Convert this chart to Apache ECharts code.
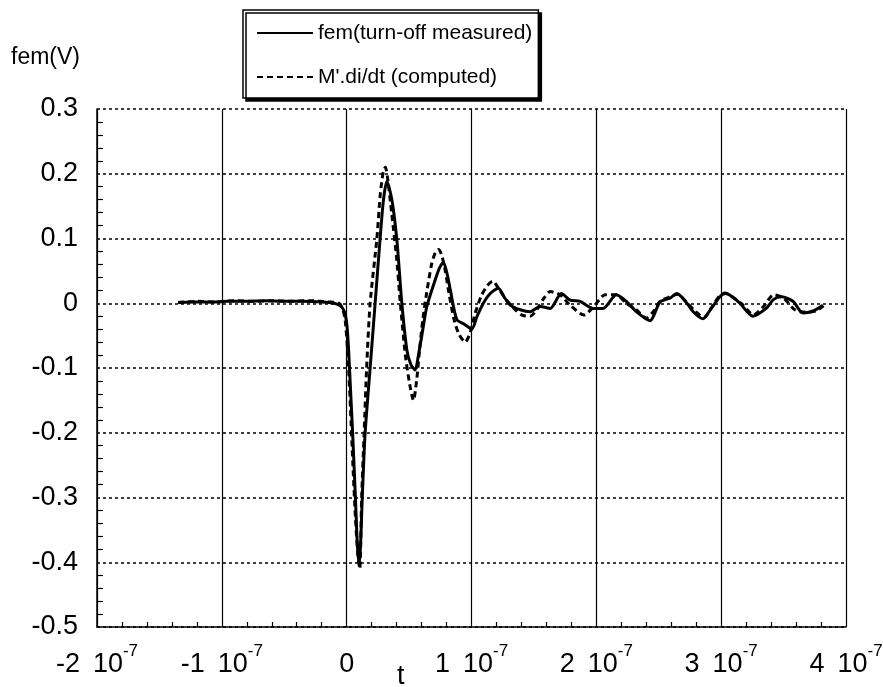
<!DOCTYPE html>
<html>
<head>
<meta charset="utf-8">
<script src="https://cdn.jsdelivr.net/npm/echarts@6/dist/echarts.min.js"></script>
<style>html,body{margin:0;padding:0;background:#fff}#c{width:883px;height:687px}</style>
</head>
<body>
<div id="c"></div>
<script>
// time in ns (1e-9 s), values in V
const tMeasured = [-135,-125,-110,-95,-80,-65,-50,-35,-20,-10,-5,-2,0,1.5,3,5,7,8.5,10,11.2,12.5,14.8,18.8,22.8,26.8,29.5,32.2,36.2,40.2,44.2,48.2,51.5,54.8,57.5,60.2,64.2,70.9,74.5,77.5,80.5,83,88.2,94,100.2,104.5,109.5,115,121.5,126,131,139,147,155,163,172,179,187,197.5,205.5,216,224,232,243,251,259,264.5,271,278,285.5,292,299,303,309,315,325.5,336,342,348.5,357.5,365.5,373.5,381.5];
const vMeasured = [0.001,0.002,0.002,0.003,0.003,0.004,0.003,0.003,0.002,0.0,-0.004,-0.012,-0.03,-0.07,-0.13,-0.21,-0.3,-0.37,-0.405,-0.37,-0.3,-0.2,-0.1,0,0.1,0.16,0.188,0.16,0.098,0,-0.072,-0.095,-0.103,-0.08,-0.05,-0.005,0.036,0.055,0.063,0.045,0.021,-0.025,-0.032,-0.04,-0.02,0,0.015,0.023,0.01,-0.003,-0.01,-0.013,-0.005,-0.008,0.015,0.005,0.003,-0.008,-0.008,0.013,0.003,-0.013,-0.027,0.002,0.008,0.015,0.004,-0.014,-0.024,-0.008,0.01,0.016,0.01,0,-0.02,-0.008,0.006,0.01,0.003,-0.015,-0.012,-0.003];
const tComputed = [-135,-120,-105,-90,-75,-60,-45,-30,-15,-6,-3,-1,1,3,5,7,9,10.5,12,14,16,18.8,24.2,27,29.5,31,33,36,40,43,47,50.5,53.5,56,58.5,61,64,68,71,73.5,76,79,82,86,90,95,99,103,108,113,117,122,128,134,140,147,153,157,163,171,179,190,198,207,216,224,232,240,246,251,259,265,272,279,286,293,299,304,310,316,326,334,342,350,359,368,376,382];
const vComputed = [0.001,0.003,0.002,0.004,0.003,0.004,0.003,0.004,0.002,0.0,-0.01,-0.03,-0.08,-0.16,-0.25,-0.33,-0.39,-0.41,-0.3,-0.2,-0.1,0,0.1,0.17,0.205,0.21,0.19,0.14,0.07,0.0,-0.08,-0.125,-0.15,-0.12,-0.07,-0.025,0.015,0.06,0.078,0.083,0.075,0.05,0.015,-0.025,-0.048,-0.06,-0.045,-0.015,0.012,0.028,0.034,0.022,0.005,-0.008,-0.018,-0.02,-0.008,0.005,0.018,0.013,-0.003,-0.018,-0.005,0.013,0.013,0.0,-0.01,-0.023,-0.012,0.003,0.01,0.014,0.002,-0.012,-0.022,-0.005,0.012,0.015,0.008,0.0,-0.018,-0.005,0.013,0.008,-0.01,-0.014,-0.012,-0.004];
const xTicks = [-200,-100,0,100,200,300,400];
const yTicks = [-0.5,-0.4,-0.3,-0.2,-0.1,0,0.1,0.2,0.3];
const seriesNames = ['fem(turn-off measured)', "M'.di/dt (computed)"];

const FF = 'Liberation Sans, Arial, sans-serif';
const chart = echarts.init(document.getElementById('c'));
const zip = (a, b) => a.map((t, i) => [t, b[i]]);

chart.setOption({
  animation: false,
  backgroundColor: '#fff',
  grid: { left: 97, right: 37, top: 109, bottom: 60, containLabel: false, outerBoundsMode: 'none' },
  legend: {
    left: 243, top: 10, orient: 'vertical',
    data: seriesNames,
    itemWidth: 56, itemHeight: 14, itemGap: 16,
    padding: [9, 6, 7, 13],
    backgroundColor: '#fff', borderColor: '#000', borderWidth: 1.5, borderRadius: 0,
    shadowColor: '#000', shadowBlur: 0, shadowOffsetX: 3, shadowOffsetY: 3,
    itemStyle: { opacity: 0, borderWidth: 0 },
    lineStyle: { width: 2 },
    textStyle: { fontFamily: FF, fontSize: 21, color: '#000', lineHeight: 28 }
  },
  xAxis: {
    type: 'value', min: xTicks[0], max: xTicks[xTicks.length - 1], interval: 100,
    axisLine: { onZero: false, lineStyle: { color: '#000', width: 1.5 } },
    axisTick: { show: false, inside: true },
    minorTick: { show: true, splitNumber: 5, length: 5, lineStyle: { color: '#000', width: 1.2 } },
    splitLine: { show: true, lineStyle: { color: '#000', width: 1.2, type: 'solid' } },
    axisLabel: {
      margin: 24,
      formatter: v => v === 0 ? '{a|0}' : '{a|' + (v / 100) + '}{b|10}{s|-7}',
      rich: {
        a: { fontFamily: FF, fontSize: 27, color: '#000', lineHeight: 27, padding: [12, 0, 12, 0] },
        b: { fontFamily: FF, fontSize: 27, color: '#000', lineHeight: 27, padding: [12, 0, 12, 13] },
        s: { fontFamily: FF, fontSize: 17, color: '#000', lineHeight: 17, padding: [0, 0, 26, 0] }
      }
    }
  },
  yAxis: {
    type: 'value', min: yTicks[0], max: yTicks[yTicks.length - 1], interval: 0.1,
    axisLine: { onZero: false, lineStyle: { color: '#000', width: 1.5 } },
    axisTick: { show: false, inside: true },
    minorTick: { show: true, splitNumber: 5, length: 6, lineStyle: { color: '#000', width: 1.2 } },
    splitLine: { show: true, lineStyle: { color: '#000', width: 1.5, type: [3, 3] } },
    axisLabel: {
      margin: 19, fontFamily: FF, fontSize: 27, color: '#000',
      formatter: v => Math.abs(v) < 1e-9 ? '0' : v.toFixed(1)
    }
  },
  graphic: [
    { type: 'text', left: 11, top: 46, style: { text: 'fem(V)', font: '23px ' + FF, fill: '#000' } },
    { type: 'text', left: 397, top: 663, style: { text: 't', font: '27px ' + FF, fill: '#000' } }
  ],
  series: [
    {
      name: seriesNames[0], type: 'line', data: zip(tMeasured, vMeasured),
      showSymbol: false, symbol: 'none', smooth: 0.25,
      lineStyle: { color: '#000', width: 3, type: 'solid' }, itemStyle: { color: '#000' }, z: 3
    },
    {
      name: seriesNames[1], type: 'line', data: zip(tComputed, vComputed),
      showSymbol: false, symbol: 'none', smooth: 0.25,
      lineStyle: { color: '#000', width: 3, type: [6, 4] }, itemStyle: { color: '#000' }, z: 2
    }
  ]
});
</script>
</body>
</html>
